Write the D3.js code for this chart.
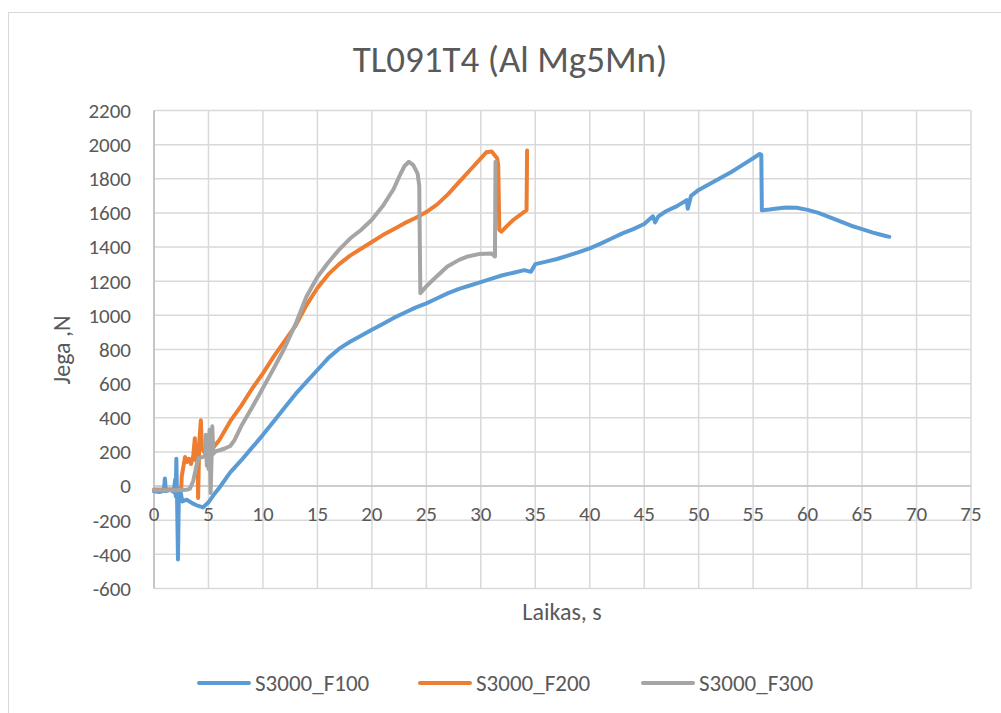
<!DOCTYPE html>
<html>
<head>
<meta charset="utf-8">
<script src="https://cdn.jsdelivr.net/npm/d3@7"></script>
<style>
  html, body { margin: 0; padding: 0; background: #fff; }
  svg text { font-family: Carlito, Lato, "Open Sans", sans-serif; fill: #595959; }
</style>
</head>
<body>
<svg id="chart" width="1001" height="713"></svg>
<script>
// Series: [time s, force N]
const seriesNames = ["S3000_F100", "S3000_F200", "S3000_F300"];
const seriesColors = ["#5B9BD5", "#ED7D31", "#A5A5A5"];

const f100 = [
  [0,-30],[0.5,-35],[0.9,-28],[1.0,45],[1.1,-30],[1.5,-20],[1.8,-35],[1.95,40],[2.0,-60],[2.05,160],[2.12,-80],[2.2,-430],[2.28,-60],
  [2.4,-20],[2.6,-90],[3.0,-80],[3.5,-100],[4.0,-115],[4.5,-125],[5.0,-95],[5.5,-50],[6,-10],[7,80],[8,150],
  [9,225],[10,300],[11,380],[12,460],[13,540],[14,610],[15,680],[16,750],[17,805],[18,845],[19,880],[20,915],
  [21,950],[22,985],[23,1015],[24,1045],[25,1070],[26,1100],[27,1130],[28,1155],[29,1175],[30,1195],[31,1215],
  [32,1235],[33,1250],[34,1265],[34.6,1255],[35,1300],[36,1315],[37,1330],[38,1350],[39,1370],[40,1392],[41,1420],
  [42,1450],[43,1480],[44,1505],[45,1535],[45.8,1580],[46.0,1545],[46.3,1580],[47,1610],[48,1640],[48.9,1675],
  [49.0,1625],[49.3,1700],[50,1735],[51,1770],[52,1805],[53,1840],[54,1880],[55,1920],[55.6,1945],[55.75,1940],
  [55.8,1615],[56.5,1620],[57,1625],[58,1632],[59,1630],[60,1618],[61,1600],[62,1575],[63,1550],[64,1525],
  [65,1505],[66,1485],[67,1468],[67.5,1460]
];

const f200 = [
  [0,-20],[1,-20],[2,-20],[2.5,-15],[2.55,60],[2.85,170],[3.0,140],[3.2,160],[3.4,130],[3.6,175],[3.75,280],
  [3.85,150],[4.0,170],[4.05,-70],[4.15,250],[4.3,385],[4.4,220],[4.6,200],[5.0,190],[5.5,230],[6,270],[7,380],
  [8,470],[9,570],[10,660],[11,760],[12,850],[13,940],[14,1060],[15,1160],[16,1240],[17,1300],[18,1350],[19,1390],
  [20,1430],[21,1470],[22,1505],[23,1540],[24,1570],[25,1605],[26,1650],[27,1710],[28,1780],[29,1850],[30,1920],
  [30.5,1955],[31.0,1960],[31.5,1920],[31.6,1880],[31.7,1500],[31.9,1490],[32.5,1530],[33,1560],[34.2,1617],[34.25,1965]
];

const f300 = [
  [0,-25],[1,-25],[2,-25],[3,-22],[3.3,-15],[3.6,30],[3.9,120],[4.1,165],[4.5,170],[4.7,180],[4.75,300],
  [4.85,120],[4.95,260],[5.0,100],[5.1,330],[5.2,-40],[5.3,200],[5.35,350],[5.45,190],[5.7,205],[6.0,210],
  [6.5,220],[7.0,235],[7.4,270],[8,350],[9,460],[10,575],[11,690],[12,810],[13,950],[14,1110],[15,1225],
  [16,1310],[17,1385],[18,1450],[19,1500],[20,1560],[21,1640],[22,1740],[22.6,1825],[23.0,1875],[23.4,1900],
  [23.8,1880],[24.2,1830],[24.35,1760],[24.45,1130],[25.0,1170],[25.6,1207],[26.9,1285],[28,1325],[28.7,1343],
  [29.9,1360],[31.0,1362],[31.3,1345],[31.35,1900]
];

const xTicks = d3.range(0, 76, 5);
const yTicks = d3.range(-600, 2201, 200);
const titleText = "TL091T4 (Al Mg5Mn)";
const xTitle = "Laikas, s";
const yTitle = "Jega ,N";

const svg = d3.select("#chart");

// chart frame
svg.append("rect").attr("x", 8.5).attr("y", 12.5).attr("width", 1000).attr("height", 710)
  .attr("fill", "#fff").attr("stroke", "#d9d9d9").attr("stroke-width", 1);

const plot = { left: 154, right: 971, top: 110.5, bottom: 588.5 };
const x = d3.scaleLinear().domain([0, 75]).range([plot.left, plot.right]);
const y = d3.scaleLinear().domain([-600, 2200]).range([plot.bottom, plot.top]);

// gridlines
const grid = svg.append("g");
grid.selectAll(".hg").data(yTicks).join("line")
  .attr("x1", plot.left).attr("x2", plot.right)
  .attr("y1", d => y(d)).attr("y2", d => y(d))
  .attr("stroke", "#d9d9d9").attr("stroke-width", 1.5);
grid.selectAll(".vg").data(xTicks).join("line")
  .attr("x1", d => x(d)).attr("x2", d => x(d))
  .attr("y1", plot.top).attr("y2", plot.bottom)
  .attr("stroke", "#d9d9d9").attr("stroke-width", 1.5);

// axis lines
svg.append("line").attr("x1", x(0)).attr("x2", x(0)).attr("y1", plot.top).attr("y2", plot.bottom)
  .attr("stroke", "#c6c6c6").attr("stroke-width", 2);
svg.append("line").attr("x1", plot.left).attr("x2", plot.right).attr("y1", y(0)).attr("y2", y(0))
  .attr("stroke", "#c6c6c6").attr("stroke-width", 1.5);

// tick labels
svg.append("g").selectAll("text").data(yTicks).join("text")
  .attr("x", 131).attr("y", d => y(d)).attr("dy", "0.35em")
  .attr("text-anchor", "end").attr("font-size", 21).text(d => d);
svg.append("g").selectAll("text").data(xTicks).join("text")
  .attr("x", d => x(d)).attr("y", y(0) + 35)
  .attr("text-anchor", "middle").attr("font-size", 21).text(d => d);

// titles
svg.append("text").attr("x", 510).attr("y", 72).attr("text-anchor", "middle")
  .attr("font-size", 37).text(titleText);
svg.append("text").attr("x", 562).attr("y", 620).attr("text-anchor", "middle")
  .attr("font-size", 24).text(xTitle);
svg.append("text").attr("transform", "translate(70,350) rotate(-90)").attr("text-anchor", "middle")
  .attr("font-size", 24).text(yTitle);

// series lines
const line = d3.line().x(d => x(d[0])).y(d => y(d[1]));
[f100, f200, f300].forEach((data, i) => {
  svg.append("path").datum(data).attr("d", line)
    .attr("fill", "none").attr("stroke", seriesColors[i]).attr("stroke-width", 4)
    .attr("stroke-linejoin", "round").attr("stroke-linecap", "round");
});

// legend
const legendX = [199, 420, 643];
const lg = svg.append("g");
seriesNames.forEach((name, i) => {
  lg.append("line").attr("x1", legendX[i]).attr("x2", legendX[i] + 50)
    .attr("y1", 683).attr("y2", 683)
    .attr("stroke", seriesColors[i]).attr("stroke-width", 4).attr("stroke-linecap", "round");
  lg.append("text").attr("x", legendX[i] + 56).attr("y", 683).attr("dy", "0.35em")
    .attr("font-size", 23).text(name);
});
</script>
</body>
</html>
